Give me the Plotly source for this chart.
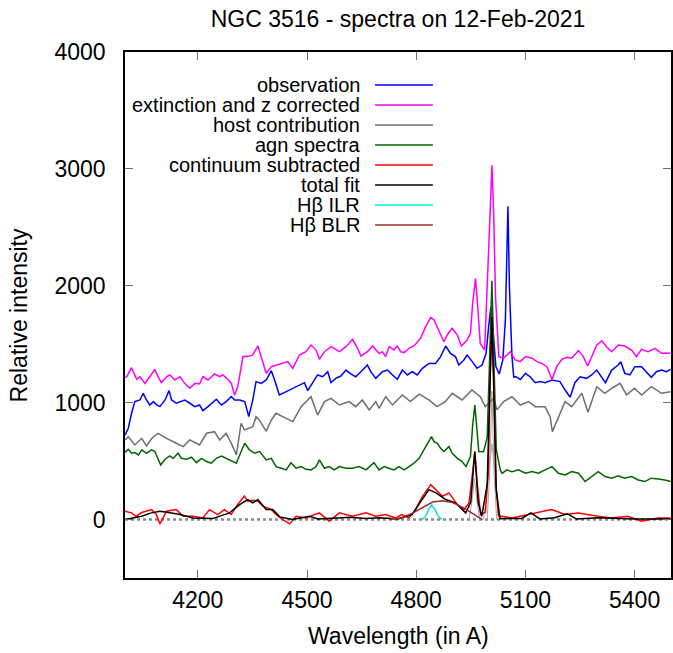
import plotly.graph_objects as go

# ---------------- data ----------------
obs_wl = [4000, 4003, 4009, 4018, 4027, 4041, 4050, 4059, 4068, 4078, 4087, 4096, 4110, 4121, 4128,
          4141, 4151, 4164, 4178, 4192, 4205, 4214, 4228, 4242, 4251, 4265, 4278, 4292, 4301, 4315,
          4329, 4340, 4351, 4360, 4374, 4388, 4402, 4411, 4424, 4443, 4461, 4479, 4493, 4502, 4516,
          4529, 4543, 4557, 4566, 4579, 4593, 4607, 4621, 4634, 4648, 4666, 4675, 4689, 4707, 4721,
          4735, 4748, 4762, 4776, 4789, 4803, 4817, 4835, 4853, 4867, 4881, 4894, 4908, 4917, 4931,
          4940, 4954, 4967, 4981, 4992, 4999, 5005, 5011, 5019, 5028, 5038, 5045, 5049, 5052, 5056,
          5063, 5068, 5074, 5086, 5100, 5113, 5127, 5141, 5154, 5173, 5195, 5209, 5223, 5236, 5250,
          5268, 5282, 5296, 5310, 5320, 5337, 5355, 5362, 5373, 5387, 5401, 5419, 5433, 5446, 5460,
          5474, 5487, 5499]
obs_val = [722, 738, 781, 909, 1009, 1023, 1080, 1023, 980, 1009, 980, 966, 1023, 1103, 1023,
           995, 1009, 1023, 995, 966, 980, 932, 966, 1009, 1029, 980, 1009, 1052, 1023, 1023,
           1009, 881, 1023, 1180, 1165, 1194, 1274, 1194, 1066, 1094, 1123, 1151, 1171, 1103, 1171,
           1237, 1222, 1265, 1171, 1208, 1228, 1279, 1245, 1222, 1265, 1322, 1265, 1208, 1265, 1279,
           1237, 1199, 1279, 1237, 1265, 1237, 1294, 1336, 1336, 1394, 1485, 1422, 1394, 1322, 1365,
           1408, 1351, 1294, 1322, 1422, 1650, 1816, 1621, 1308, 1245, 1365, 1707, 2220, 2681, 2000,
           1400, 1220, 1222, 1199, 1251, 1222, 1171, 1180, 1171, 1194, 1180, 1108, 1046, 1171, 1222,
           1208, 1237, 1279, 1222, 1171, 1279, 1322, 1351, 1251, 1237, 1308, 1308, 1265, 1217, 1265,
           1279, 1265, 1285]

ext_wl = [4000, 4005, 4018, 4032, 4041, 4055, 4068, 4082, 4091, 4100, 4114, 4123, 4137, 4151, 4164,
          4178, 4192, 4205, 4214, 4228, 4246, 4260, 4269, 4283, 4292, 4301, 4310, 4324, 4338, 4351,
          4365, 4374, 4388, 4402, 4415, 4434, 4447, 4461, 4479, 4497, 4511, 4525, 4534, 4548, 4566,
          4589, 4607, 4625, 4639, 4648, 4666, 4680, 4698, 4707, 4716, 4726, 4739, 4748, 4757, 4767,
          4780, 4794, 4803, 4812, 4826, 4840, 4849, 4862, 4876, 4885, 4899, 4913, 4924, 4940, 4949,
          4955, 4963, 4969, 4976, 4988, 4999, 5004, 5008, 5013, 5018, 5027, 5040, 5059, 5072, 5086,
          5100, 5118, 5132, 5145, 5159, 5173, 5186, 5200, 5214, 5227, 5246, 5259, 5271, 5282, 5296,
          5310, 5323, 5337, 5355, 5373, 5392, 5405, 5419, 5437, 5456, 5474, 5499]
ext_val = [1215, 1222, 1299, 1199, 1222, 1165, 1222, 1285, 1222, 1171, 1222, 1237, 1194, 1222, 1165,
           1123, 1165, 1160, 1222, 1194, 1245, 1222, 1237, 1199, 1165, 1066, 1137, 1394, 1394, 1408,
           1485, 1394, 1251, 1308, 1322, 1336, 1351, 1294, 1408, 1436, 1493, 1450, 1371, 1436, 1479,
           1436, 1479, 1542, 1465, 1399, 1436, 1485, 1420, 1436, 1394, 1479, 1450, 1485, 1436, 1428,
           1465, 1485, 1513, 1550, 1650, 1730, 1707, 1621, 1521, 1579, 1636, 1579, 1485, 1536, 1593,
           1849, 2063, 1821, 1507, 1450, 2220, 2700, 3030, 2600, 1900, 1394, 1380, 1436, 1365, 1351,
           1394, 1380, 1351, 1336, 1308, 1199, 1308, 1371, 1388, 1380, 1445, 1394, 1314, 1394, 1493,
           1530, 1479, 1436, 1493, 1485, 1450, 1394, 1456, 1436, 1465, 1422, 1422]

host_wl = [4000, 4009, 4027, 4046, 4059, 4075, 4091, 4114, 4141, 4160, 4178, 4205, 4224, 4246, 4260, 4278,
           4292, 4306, 4319, 4328, 4351, 4360, 4369, 4388, 4402, 4415, 4433, 4461, 4484, 4511, 4529, 4548,
           4566, 4589, 4616, 4634, 4652, 4671, 4689, 4698, 4716, 4735, 4762, 4784, 4808, 4835, 4857, 4880,
           4899, 4926, 4953, 4976, 4990, 5013, 5022, 5040, 5063, 5086, 5109, 5127, 5154, 5168, 5174, 5191,
           5209, 5227, 5255, 5272, 5296, 5318, 5337, 5360, 5378, 5400, 5419, 5446, 5474, 5499]
host_val = [680, 710, 638, 695, 630, 700, 738, 695, 653, 624, 681, 638, 738, 752, 681, 738,
            653, 553, 824, 767, 795, 880, 852, 755, 852, 909, 880, 838, 966, 1051, 894, 1009,
            1037, 980, 1009, 966, 1023, 938, 1009, 952, 1051, 980, 1066, 1009, 1073, 1023, 966, 1009,
            1080, 1023, 1109, 1051, 966, 1037, 938, 1009, 1051, 980, 1009, 966, 966, 880, 752, 880,
            1009, 966, 1080, 918, 1137, 1080, 1123, 1166, 1066, 1123, 1066, 1137, 1080, 1094]

agn_wl = [4000, 4003, 4009, 4018, 4027, 4037, 4046, 4059, 4073, 4082,
          4091, 4098, 4110, 4123, 4132, 4146, 4155, 4169, 4183, 4196,
          4210, 4224, 4237, 4251, 4265, 4278, 4292, 4306, 4317, 4329,
          4342, 4356, 4370, 4388, 4402, 4415, 4429, 4443, 4456, 4470,
          4484, 4497, 4511, 4525, 4534, 4548, 4561, 4575, 4589, 4607,
          4625, 4643, 4662, 4684, 4698, 4712, 4725, 4739, 4753, 4767,
          4780, 4794, 4808, 4821, 4835, 4842, 4849, 4858, 4867, 4876,
          4890, 4899, 4913, 4926, 4937, 4949, 4955, 4961, 4966, 4972,
          4985, 4995, 5001, 5008, 5014, 5020, 5031, 5036, 5049, 5063,
          5081, 5100, 5118, 5136, 5154, 5173, 5191, 5209, 5227, 5246,
          5264, 5282, 5300, 5319, 5337, 5355, 5373, 5392, 5410, 5428,
          5446, 5465, 5483, 5499]
agn_val = [575, 582, 601, 567, 573, 553, 596, 567, 596, 582,
           510, 467, 516, 544, 524, 567, 524, 516, 533, 487,
           524, 496, 482, 524, 544, 524, 504, 482, 567, 653,
           596, 567, 582, 510, 524, 453, 439, 425, 487, 439,
           453, 430, 425, 453, 510, 439, 453, 425, 453, 439,
           439, 453, 425, 487, 425, 453, 439, 425, 453, 425,
           453, 482, 524, 596, 681, 710, 667, 653, 610, 582,
           624, 567, 524, 496, 453, 538, 800, 980, 800, 581,
           580, 700, 1300, 2043, 1300, 600, 425, 396, 425, 410,
           425, 396, 410, 396, 425, 453, 396, 382, 410, 396,
           325, 368, 410, 368, 354, 374, 354, 368, 339, 325,
           354, 346, 339, 325]

cont_wl = [4000, 4018, 4030, 4046, 4073, 4086, 4096, 4114, 4141, 4160, 4187, 4214, 4232, 4255, 4273, 4292,
           4306, 4328, 4337, 4351, 4365, 4379, 4402, 4415, 4433, 4452, 4470, 4497, 4534, 4561, 4589, 4625,
           4662, 4689, 4716, 4744, 4760, 4780, 4798, 4817, 4840, 4854, 4872, 4890, 4913, 4931, 4945, 4953,
           4961, 4968, 4977, 4990, 4998, 5003, 5008, 5013, 5019, 5026, 5036, 5063, 5109, 5172, 5209, 5245,
           5300, 5336, 5382, 5419, 5464, 5499]
cont_val = [71, 57, 28, 60, 85, 43, -37, 71, 85, 28, 28, 14, 85, 43, 85, 43,
            114, 202, 157, 165, 157, 114, 85, 43, 0, -37, 28, 14, 57, -14, 57, 28,
            57, 28, 43, 14, 43, 14, 85, 199, 299, 256, 199, 228, 128, 85, 142, 350,
            581, 300, 43, 60, 400, 1200, 1750, 1200, 300, 30, 28, 14, 43, 85, 43, 57,
            28, 14, 28, -14, 14, 14]

fit_wl = [4000, 4020, 4046, 4070, 4096, 4120, 4151, 4187, 4241, 4287, 4315, 4337, 4351, 4365, 4388, 4406,
          4425, 4460, 4507, 4530, 4580, 4620, 4660, 4700, 4750, 4789, 4810, 4835, 4854, 4881, 4908, 4936,
          4950, 4961, 4970, 4980, 4995, 5001, 5008, 5014, 5020, 5030, 5090, 5115, 5140, 5180, 5215, 5240,
          5270, 5300, 5400, 5499]
fit_val = [0, 10, 28, 55, 71, 60, 43, 14, 8, 57, 128, 171, 142, 171, 85, 85,
           23, 0, 28, 5, 10, 20, 8, 15, 5, 43, 142, 256, 228, 171, 142, 57,
           150, 581, 150, 28, 300, 1000, 1735, 1000, 250, 8, 10, 57, 5, 15, 50, 5,
           10, 15, 5, 5]

ilr_wl = [4815, 4825, 4835, 4842, 4850, 4860, 4870]
ilr_val = [0, 25, 90, 125, 95, 30, 0]

blr_wl = [4725, 4760, 4790, 4820, 4845, 4872, 4900, 4930, 4955, 4982]
blr_val = [0, 15, 55, 110, 150, 160, 145, 100, 50, 0]

# narrow [OIII] components (unlabelled grey curves)
o3a_wl = [4945, 4953, 4960, 4967, 4975]
o3a_val = [0, 150, 350, 150, 0]
o3b_wl = [4995, 5002, 5008, 5014, 5021]
o3b_val = [0, 400, 1100, 400, 0]
o3c_wl = [4985, 5000, 5008, 5016, 5030]
o3c_val = [0, 400, 650, 400, 0]

x_ticks = [4200, 4500, 4800, 5100, 5400]
y_ticks = [0, 1000, 2000, 3000, 4000]

series = [
    ("observation", obs_wl, obs_val, "#0000ff"),
    ("extinction and z corrected", ext_wl, ext_val, "#ff00ff"),
    ("host contribution", host_wl, host_val, "#6e6e6e"),
    ("agn spectra", agn_wl, agn_val, "#006400"),
    ("continuum subtracted", cont_wl, cont_val, "#ff0000"),
    ("total fit", fit_wl, fit_val, "#000000"),
    ("H\u03b2 ILR", ilr_wl, ilr_val, "#00e5e5"),
    ("H\u03b2 BLR", blr_wl, blr_val, "#a52a2a"),
]

FONT = "Liberation Sans, Arial, sans-serif"
fig = go.Figure()

for wl, val in [(o3a_wl, o3a_val), (o3b_wl, o3b_val), (o3c_wl, o3c_val)]:
    fig.add_trace(go.Scatter(x=wl, y=val, mode="lines", showlegend=False,
                             line=dict(color="#a8a8a8", width=1), hoverinfo="skip"))

for name, wl, val, col in series:
    fig.add_trace(go.Scatter(x=wl, y=val, mode="lines", name=name, showlegend=False,
                             line=dict(color=col, width=1.5)))

fig.add_shape(type="line", xref="paper", yref="y", x0=0, x1=1, y0=0, y1=0,
              line=dict(color="#8a8a8a", width=2.5, dash="dot"), layer="below")

W, H = 673, 653
L, R, T, B = 125, 0, 52, 75
pw, ph = W - L - R, H - T - B
def px_x(p):
    return (p - L) / pw
def px_y(p):
    return (H - B - p) / ph
row0, step = 85, 20.0
for i, (name, wl, val, col) in enumerate(series):
    yy = px_y(row0 + i * step)
    fig.add_annotation(x=px_x(363), y=yy, xref="paper", yref="paper", text=name,
                       showarrow=False, xanchor="right", yanchor="middle",
                       font=dict(family=FONT, size=20, color="black"))
    fig.add_shape(type="line", xref="paper", yref="paper", x0=px_x(376), x1=px_x(434),
                  y0=yy, y1=yy, line=dict(color=col, width=1.5))

# axis titles placed as annotations (gnuplot positions)
fig.add_annotation(x=0.5, y=px_y(636), xref="paper", yref="paper", text="Wavelength (in A)",
                   showarrow=False, xanchor="center", yanchor="middle",
                   font=dict(family=FONT, size=23, color="black"))
fig.add_annotation(x=px_x(19), y=0.5, xref="paper", yref="paper", text="Relative intensity",
                   showarrow=False, xanchor="center", yanchor="middle", textangle=-90,
                   font=dict(family=FONT, size=23, color="black"))

axis_common = dict(showline=True, linecolor="black", linewidth=2, mirror="allticks",
                   ticks="inside", ticklen=8, tickwidth=1, tickcolor="#6e6e6e",
                   showgrid=False, zeroline=False,
                   tickfont=dict(family=FONT, size=23, color="black"))

pad = "\u00a0\u00a0"
fig.update_layout(
    width=W, height=H,
    margin=dict(l=L, r=R, t=T, b=B),
    paper_bgcolor="white", plot_bgcolor="white",
    title=dict(text="NGC 3516 - spectra on 12-Feb-2021", x=0.5, xref="paper",
               y=1 - 19 / H, yref="container", yanchor="middle",
               font=dict(family=FONT, size=23, color="black")),
    xaxis=dict(range=[4000, 5500], tickvals=x_ticks, ticktext=[str(v) for v in x_ticks],
               **axis_common),
    yaxis=dict(range=[-500, 4000], tickvals=y_ticks, ticktext=[str(v) + pad for v in y_ticks],
               **axis_common),
    showlegend=False,
)

fig.write_html("out.html", config={"displayModeBar": False},
               post_script="document.body.style.margin='0px';document.body.style.overflow='hidden';")
